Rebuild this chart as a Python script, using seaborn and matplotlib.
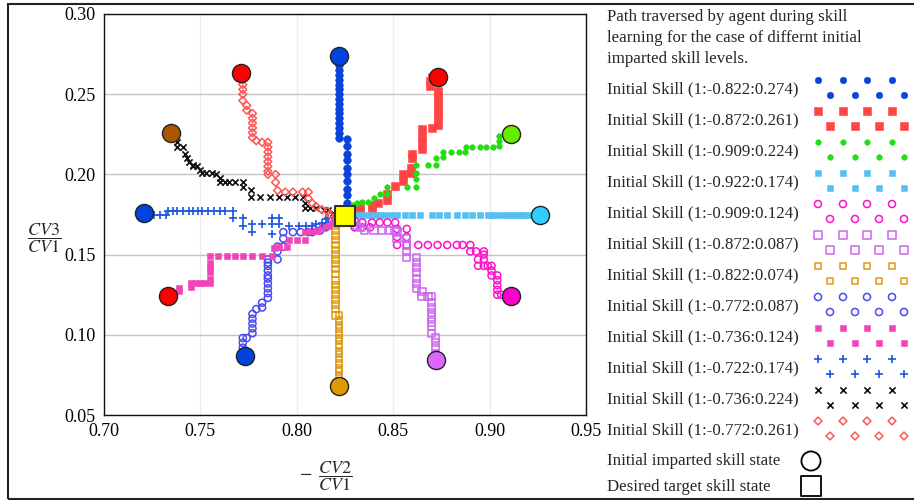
import matplotlib
matplotlib.use("Agg")
import matplotlib.pyplot as plt
import seaborn as sns
from matplotlib.patches import Rectangle

# ---- data (x = -CV2/CV1, y = CV3/CV1) ----
target_x = [0.825]
target_y = [0.174]

start_x = [0.822, 0.873, 0.911, 0.926, 0.911, 0.872, 0.822, 0.773, 0.733, 0.721, 0.735, 0.771]
start_y = [0.274, 0.261, 0.225, 0.175, 0.124, 0.084, 0.068, 0.087, 0.124, 0.176, 0.226, 0.263]

labels = ["Initial Skill (1:-0.822:0.274)", "Initial Skill (1:-0.872:0.261)",
          "Initial Skill (1:-0.909:0.224)", "Initial Skill (1:-0.922:0.174)",
          "Initial Skill (1:-0.909:0.124)", "Initial Skill (1:-0.872:0.087)",
          "Initial Skill (1:-0.822:0.074)", "Initial Skill (1:-0.772:0.087)",
          "Initial Skill (1:-0.736:0.124)", "Initial Skill (1:-0.722:0.174)",
          "Initial Skill (1:-0.736:0.224)", "Initial Skill (1:-0.772:0.261)"]

title_lines = ["Path traversed by agent during skill",
               "learning for the case of differnt initial",
               "imparted skill levels."]

path1 = [(0.822, 0.274), (0.822, 0.271), (0.822, 0.268), (0.822, 0.265), (0.822, 0.262), (0.822, 0.259),
         (0.822, 0.256), (0.822, 0.253), (0.822, 0.250), (0.822, 0.247), (0.822, 0.244), (0.822, 0.241),
         (0.822, 0.238), (0.822, 0.235), (0.822, 0.232), (0.822, 0.229), (0.822, 0.226), (0.822, 0.223),
         (0.826, 0.222), (0.826, 0.218), (0.826, 0.213), (0.826, 0.209), (0.826, 0.204), (0.826, 0.200),
         (0.826, 0.196), (0.826, 0.191), (0.826, 0.187), (0.826, 0.182), (0.826, 0.178)]
path2 = [(0.870, 0.261), (0.869, 0.258), (0.869, 0.255), (0.873, 0.252), (0.873, 0.249), (0.873, 0.246),
         (0.873, 0.243), (0.873, 0.240), (0.873, 0.237), (0.873, 0.234), (0.873, 0.231), (0.870, 0.229),
         (0.865, 0.228), (0.865, 0.224), (0.865, 0.220), (0.865, 0.216), (0.860, 0.213), (0.860, 0.210),
         (0.859, 0.204), (0.859, 0.201), (0.855, 0.200), (0.855, 0.196), (0.851, 0.193), (0.847, 0.188),
         (0.847, 0.184), (0.842, 0.182), (0.839, 0.181), (0.839, 0.178), (0.833, 0.180), (0.833, 0.177),
         (0.829, 0.178)]
path3 = [(0.905, 0.224), (0.905, 0.221), (0.905, 0.218), (0.902, 0.217), (0.898, 0.217), (0.895, 0.217),
         (0.891, 0.217), (0.888, 0.217), (0.887, 0.214), (0.884, 0.214), (0.880, 0.214), (0.876, 0.214),
         (0.876, 0.211), (0.872, 0.210), (0.872, 0.206), (0.868, 0.206), (0.862, 0.206), (0.862, 0.201),
         (0.862, 0.197), (0.862, 0.192), (0.857, 0.192), (0.847, 0.192), (0.847, 0.188), (0.843, 0.188),
         (0.840, 0.185), (0.837, 0.183), (0.834, 0.183), (0.831, 0.182), (0.829, 0.181)]
path4 = [(0.922, 0.175), (0.920, 0.175), (0.917, 0.175), (0.915, 0.175), (0.912, 0.175), (0.910, 0.175),
         (0.907, 0.175), (0.904, 0.175), (0.902, 0.175), (0.899, 0.175), (0.895, 0.175), (0.891, 0.175),
         (0.887, 0.175), (0.883, 0.175), (0.878, 0.175), (0.874, 0.175), (0.870, 0.175), (0.864, 0.175),
         (0.860, 0.175), (0.856, 0.175), (0.852, 0.175), (0.849, 0.175), (0.846, 0.175), (0.843, 0.175),
         (0.841, 0.175), (0.838, 0.175), (0.835, 0.175), (0.833, 0.175), (0.830, 0.175)]
path5 = [(0.906, 0.125), (0.904, 0.125), (0.904, 0.128), (0.904, 0.131), (0.904, 0.134), (0.904, 0.137),
         (0.901, 0.137), (0.901, 0.140), (0.901, 0.143), (0.899, 0.143), (0.897, 0.143), (0.894, 0.143),
         (0.894, 0.147), (0.897, 0.147), (0.897, 0.150), (0.897, 0.152), (0.893, 0.152), (0.890, 0.152),
         (0.890, 0.156), (0.886, 0.156), (0.883, 0.156), (0.878, 0.156), (0.873, 0.156), (0.868, 0.156),
         (0.863, 0.156), (0.857, 0.156), (0.852, 0.156), (0.857, 0.161), (0.852, 0.161), (0.857, 0.166),
         (0.852, 0.166), (0.851, 0.170), (0.847, 0.170), (0.843, 0.170), (0.839, 0.170), (0.834, 0.170),
         (0.830, 0.171), (0.838, 0.167), (0.834, 0.167), (0.830, 0.167)]
path6 = [(0.872, 0.088), (0.872, 0.092), (0.872, 0.095), (0.872, 0.098), (0.870, 0.101), (0.870, 0.105),
         (0.870, 0.108), (0.870, 0.111), (0.870, 0.114), (0.870, 0.117), (0.870, 0.120), (0.870, 0.124),
         (0.868, 0.124), (0.865, 0.124), (0.865, 0.127), (0.862, 0.129), (0.862, 0.132), (0.862, 0.135),
         (0.862, 0.139), (0.862, 0.142), (0.862, 0.145), (0.862, 0.148), (0.857, 0.148), (0.857, 0.152),
         (0.857, 0.156), (0.857, 0.160), (0.852, 0.160), (0.852, 0.164), (0.851, 0.165), (0.848, 0.165),
         (0.844, 0.165), (0.840, 0.165), (0.835, 0.165), (0.833, 0.167), (0.831, 0.168)]
path7 = [(0.822, 0.074), (0.822, 0.077), (0.822, 0.079), (0.822, 0.082), (0.822, 0.085), (0.822, 0.088),
         (0.822, 0.090), (0.822, 0.093), (0.822, 0.096), (0.822, 0.098), (0.822, 0.101), (0.822, 0.104),
         (0.822, 0.106), (0.822, 0.109), (0.822, 0.112), (0.820, 0.112), (0.820, 0.116), (0.820, 0.119),
         (0.820, 0.122), (0.820, 0.125), (0.820, 0.128), (0.820, 0.131), (0.820, 0.134), (0.820, 0.138),
         (0.820, 0.141), (0.820, 0.144), (0.820, 0.147), (0.820, 0.150), (0.820, 0.153), (0.820, 0.156),
         (0.820, 0.159), (0.820, 0.162), (0.820, 0.165), (0.820, 0.168), (0.820, 0.171)]
path8 = [(0.772, 0.092), (0.772, 0.095), (0.772, 0.098), (0.774, 0.098), (0.777, 0.101), (0.777, 0.104),
         (0.777, 0.107), (0.777, 0.110), (0.777, 0.113), (0.779, 0.116), (0.782, 0.117), (0.782, 0.120),
         (0.785, 0.123), (0.785, 0.126), (0.785, 0.129), (0.785, 0.132), (0.785, 0.135), (0.785, 0.137),
         (0.785, 0.140), (0.785, 0.143), (0.785, 0.145), (0.785, 0.147), (0.790, 0.147), (0.790, 0.152),
         (0.790, 0.155), (0.793, 0.155), (0.793, 0.160), (0.793, 0.164), (0.798, 0.164), (0.802, 0.164),
         (0.806, 0.164), (0.808, 0.164), (0.812, 0.165), (0.815, 0.167), (0.816, 0.168), (0.820, 0.170)]
path9 = [(0.739, 0.127), (0.739, 0.129), (0.745, 0.130), (0.745, 0.132), (0.747, 0.132), (0.750, 0.132),
         (0.752, 0.132), (0.755, 0.132), (0.755, 0.135), (0.755, 0.139), (0.755, 0.142), (0.755, 0.145),
         (0.755, 0.149), (0.759, 0.149), (0.764, 0.149), (0.768, 0.149), (0.772, 0.149), (0.777, 0.149),
         (0.782, 0.149), (0.787, 0.149), (0.788, 0.154), (0.791, 0.155), (0.795, 0.155), (0.796, 0.159),
         (0.800, 0.159), (0.804, 0.159), (0.804, 0.164), (0.807, 0.165), (0.808, 0.165), (0.811, 0.165),
         (0.813, 0.167), (0.816, 0.168), (0.818, 0.170), (0.820, 0.173)]
path10 = [(0.726, 0.175), (0.729, 0.175), (0.732, 0.175), (0.733, 0.177), (0.736, 0.177), (0.738, 0.177),
          (0.741, 0.177), (0.744, 0.177), (0.746, 0.177), (0.749, 0.177), (0.751, 0.177), (0.754, 0.177),
          (0.757, 0.177), (0.760, 0.177), (0.763, 0.177), (0.767, 0.177), (0.767, 0.173), (0.772, 0.173),
          (0.772, 0.168), (0.777, 0.169), (0.777, 0.164), (0.782, 0.169), (0.787, 0.173), (0.791, 0.173),
          (0.787, 0.169), (0.791, 0.169), (0.787, 0.163), (0.796, 0.168), (0.801, 0.168), (0.805, 0.168),
          (0.808, 0.168), (0.810, 0.169), (0.813, 0.170), (0.815, 0.172), (0.816, 0.173)]
path11 = [(0.738, 0.220), (0.738, 0.217), (0.741, 0.217), (0.742, 0.213), (0.743, 0.210), (0.744, 0.208),
          (0.746, 0.206), (0.746, 0.205), (0.748, 0.205), (0.750, 0.203), (0.751, 0.201), (0.753, 0.201),
          (0.756, 0.201), (0.758, 0.200), (0.760, 0.198), (0.760, 0.195), (0.763, 0.195), (0.765, 0.195),
          (0.768, 0.195), (0.772, 0.195), (0.772, 0.192), (0.776, 0.190), (0.776, 0.186), (0.781, 0.186),
          (0.786, 0.186), (0.791, 0.186), (0.795, 0.186), (0.799, 0.186), (0.803, 0.186), (0.804, 0.182),
          (0.804, 0.179), (0.807, 0.179), (0.810, 0.179), (0.814, 0.178), (0.816, 0.178), (0.819, 0.176)]
path12 = [(0.772, 0.259), (0.772, 0.256), (0.772, 0.253), (0.772, 0.250), (0.772, 0.246), (0.774, 0.243),
          (0.774, 0.240), (0.777, 0.238), (0.777, 0.235), (0.777, 0.232), (0.777, 0.229), (0.777, 0.226),
          (0.777, 0.223), (0.779, 0.221), (0.782, 0.220), (0.785, 0.220), (0.785, 0.217), (0.785, 0.214),
          (0.785, 0.211), (0.785, 0.208), (0.785, 0.205), (0.785, 0.202), (0.785, 0.200), (0.789, 0.200),
          (0.789, 0.195), (0.790, 0.190), (0.794, 0.189), (0.798, 0.189), (0.803, 0.189), (0.806, 0.189),
          (0.806, 0.185), (0.808, 0.182), (0.810, 0.180), (0.813, 0.178), (0.816, 0.177), (0.817, 0.175)]

paths = [path1, path2, path3, path4, path5, path6, path7, path8, path9, path10, path11, path12]

# ---- styles ----
path_colors = ["#0a44d8", "#ff4444", "#22dd11", "#55c0f0", "#ff11cc", "#cc66ee",
               "#dd9911", "#4a4af0", "#f244b8", "#1a55e0", "#111111", "#ff5555"]
path_markers = ["o", "s", "o", "s", "o", "s", "s", "o", "s", "+", "x", "D"]
path_sizes = [30, 38, 16, 22, 26, 28, 22, 26, 14, 34, 20, 16]
legend_sizes = [22, 34, 16, 22, 26, 28, 22, 26, 14, 34, 20, 16]
path_open = [False, False, False, False, True, True, True, True, False, False, False, True]
start_colors = ["#0044dd", "#ff0000", "#66ee00", "#33ccff", "#ff00cc", "#dd66ff",
                "#dd9900", "#0044dd", "#ff0000", "#0044dd", "#aa5500", "#ff0000"]

sns.set_style("white")
plt.rcParams["font.family"] = ["Liberation Serif", "DejaVu Serif"]
plt.rcParams["mathtext.fontset"] = "stix"

fig = plt.figure(figsize=(9.14, 5.0), dpi=100)
ax = fig.add_axes([104 / 914, 85 / 500, 482 / 914, 401 / 500])


def draw_path(axis, xs, ys, i, s):
    c = path_colors[i]
    m = path_markers[i]
    if m in ("+", "x"):
        sns.scatterplot(x=xs, y=ys, marker=m, s=s, color=c, linewidth=1.2, ax=axis, zorder=3)
    elif path_open[i]:
        sns.scatterplot(x=xs, y=ys, marker=m, s=s, facecolor="none", edgecolor=c,
                        linewidth=1.1, ax=axis, zorder=3)
    else:
        sns.scatterplot(x=xs, y=ys, marker=m, s=s, color=c, edgecolor=c,
                        linewidth=0.4, ax=axis, zorder=3)


for i, p in enumerate(paths):
    draw_path(ax, [q[0] for q in p], [q[1] for q in p], i, path_sizes[i])

for i in range(len(start_x)):
    sns.scatterplot(x=[start_x[i]], y=[start_y[i]], s=170, color=start_colors[i], edgecolor="#222222",
                    linewidth=1.0, ax=ax, zorder=5)
sns.scatterplot(x=target_x, y=target_y, marker="s", s=200, color="#ffff00", edgecolor="#333333",
                linewidth=1.5, ax=ax, zorder=6)

ax.set_xlim(0.70, 0.95)
ax.set_ylim(0.05, 0.30)
ax.set_xticks([0.70, 0.75, 0.80, 0.85, 0.90, 0.95])
ax.set_yticks([0.05, 0.10, 0.15, 0.20, 0.25, 0.30])
ax.set_xticklabels([f"{v:.2f}" for v in [0.70, 0.75, 0.80, 0.85, 0.90, 0.95]])
ax.set_yticklabels([f"{v:.2f}" for v in [0.05, 0.10, 0.15, 0.20, 0.25, 0.30]])
ax.tick_params(axis="both", direction="out", length=4, width=1, colors="black", labelsize=13, pad=2)
ax.xaxis.grid(True, color="#ececec", linewidth=1)
ax.yaxis.grid(True, color="#c4c4c4", linewidth=1)
ax.set_axisbelow(True)
for sp in ax.spines.values():
    sp.set_color("#111111")
    sp.set_linewidth(1.0)

ax.set_xlabel(r"$-\;\;\dfrac{CV2}{CV1}$", fontsize=13)
ax.xaxis.set_label_coords(0.46, -0.11)
ax.set_ylabel(r"$\dfrac{CV3}{CV1}$", fontsize=13, rotation=0, va="center")
ax.yaxis.set_label_coords(-0.125, 0.44)

# ---- legend panel drawn in pixel coordinates ----
lax = fig.add_axes([0, 0, 1, 1], zorder=10)
lax.set_xlim(0, 914)
lax.set_ylim(500, 0)
lax.axis("off")

for k, line in enumerate(title_lines):
    lax.text(607, 17 + 21 * k, line, fontsize=12.2, va="center", ha="left")

top_xs = [818, 843, 867, 892]
bot_xs = [830, 855, 879, 904]
for i, lab in enumerate(labels):
    yc = 89 + 31 * i
    lax.text(607, yc, lab, fontsize=12.2, va="center", ha="left")
    draw_path(lax, top_xs + bot_xs, [yc - 9] * 4 + [yc + 6] * 4, i, legend_sizes[i])

lax.text(607, 461, "Initial imparted skill state", fontsize=12.2, va="center", ha="left")
lax.text(607, 487, "Desired target skill state", fontsize=12.2, va="center", ha="left")
sns.scatterplot(x=[811], y=[461], s=190, facecolor="none", edgecolor="black", linewidth=1.3, ax=lax)
sns.scatterplot(x=[811], y=[486], marker="s", s=200, facecolor="none", edgecolor="black",
                linewidth=1.3, ax=lax)

fig.patches.append(Rectangle((8 / 914, 1 / 500), 1.0, 495 / 500, transform=fig.transFigure,
                             fill=False, edgecolor="#222222", linewidth=1.5))

fig.savefig("out.png", dpi=100)
